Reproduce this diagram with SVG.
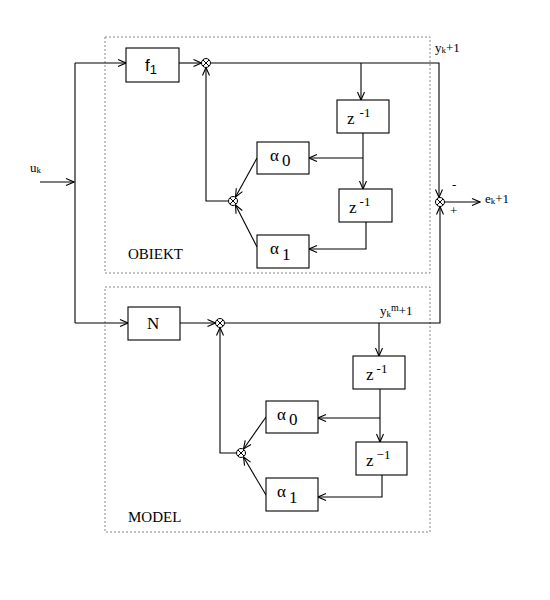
<svg xmlns="http://www.w3.org/2000/svg" width="550" height="600" viewBox="0 0 550 600">
<style>
.frame{fill:none;stroke:#888;stroke-width:1;stroke-dasharray:2,2}
.box{fill:#fff;stroke:#000;stroke-width:1.1}
.ln{fill:none;stroke:#000;stroke-width:1.1;marker-end:url(#a)}
.pl{fill:none;stroke:#000;stroke-width:1.1}
.sum circle{fill:#fff;stroke:#000;stroke-width:1}
.sum path{stroke:#000;stroke-width:1}
text{font-family:"Liberation Serif","DejaVu Serif",serif;fill:#000}
.t{font-size:17px}
.s{font-size:13px}
.lab{font-size:15px}
</style>
<defs>
<marker id="a" markerWidth="10" markerHeight="10" refX="9" refY="5" orient="auto" markerUnits="userSpaceOnUse">
<path d="M1,1.5 L9,5 L1,8.5" fill="none" stroke="#000" stroke-width="1.1"/>
</marker>
</defs>
<rect width="550" height="600" fill="#fff"/>
<g id="obiekt-frame"><rect class="frame" x="105" y="37" width="325" height="236"/><text class="lab" x="128" y="259">OBIEKT</text></g>
<g id="model-frame"><rect class="frame" x="105" y="287" width="325" height="245"/><text class="lab" x="128" y="522">MODEL</text></g>
<g id="connectors">
<path class="ln" d="M40,182 H74"/>
<path class="pl" d="M75,63 V323"/>
<path class="ln" d="M75,63 H126"/>
<path class="ln" d="M179,63 H201.5"/>
<path class="ln" d="M210.5,63 H439 V197.5"/>
<path class="ln" d="M361,63 V100"/>
<path class="ln" d="M363,133 V189"/>
<path class="ln" d="M363,158 H309"/>
<path class="ln" d="M366,222 V249 H309"/>
<path class="ln" d="M257,158 L235.5,197"/>
<path class="ln" d="M257,247 L235.5,205"/>
<path class="ln" d="M228.5,201 H206 V67.5"/>
<path class="ln" d="M444.5,202 H480"/>
<path class="ln" d="M75,323 H128"/>
<path class="ln" d="M180,323 H215.5"/>
<path class="ln" d="M224.5,323 H440 V206.5"/>
<path class="ln" d="M379,323 V356"/>
<path class="ln" d="M380,389 V442"/>
<path class="ln" d="M380,418 H318"/>
<path class="ln" d="M382,475 V497 H318"/>
<path class="ln" d="M266,417 L243.5,449"/>
<path class="ln" d="M266,495 L243.5,457"/>
<path class="ln" d="M236.5,453 H220 V327.5"/>
</g>
<g id="f1"><rect class="box" x="126" y="48" width="53" height="34"/><text x="145" y="71" style="font-family:'Liberation Sans',sans-serif;font-size:17px">f<tspan style="font-size:13px" dy="3">1</tspan></text></g>
<g id="sum1" class="sum"><circle cx="206" cy="63" r="4.5"/><path d="M203,60 L209,66 M209,60 L203,66"/></g>
<g id="z1a"><rect class="box" x="337" y="100" width="52" height="33"/><text class="t" x="347" y="124">z<tspan class="s" dx="5" dy="-7">-1</tspan></text></g>
<g id="z1b"><rect class="box" x="339" y="189" width="53" height="33"/><text class="t" x="349" y="213">z<tspan class="s" dx="3" dy="-7">-1</tspan></text></g>
<g id="alpha0a"><rect class="box" x="257" y="142" width="52" height="32"/><text class="t" x="270" y="161">α<tspan class="t" dx="3" dy="5">0</tspan></text></g>
<g id="alpha1a"><rect class="box" x="257" y="235" width="52" height="33"/><text class="t" x="270" y="254">α<tspan class="t" dx="3" dy="6">1</tspan></text></g>
<g id="sum2" class="sum"><circle cx="233" cy="201" r="4.5"/><path d="M230,198 L236,204 M236,198 L230,204"/></g>
<g id="sum3" class="sum"><circle cx="440" cy="202" r="4.5"/><path d="M437,199 L443,205 M443,199 L437,205"/></g>
<g id="N"><rect class="box" x="128" y="307" width="52" height="33"/><text class="t" x="147" y="329">N</text></g>
<g id="sum4" class="sum"><circle cx="220" cy="323" r="4.5"/><path d="M217,320 L223,326 M223,320 L217,326"/></g>
<g id="z2a"><rect class="box" x="353" y="356" width="52" height="33"/><text class="t" x="366" y="380">z<tspan class="s" dx="3" dy="-7">-1</tspan></text></g>
<g id="z2b"><rect class="box" x="356" y="442" width="51" height="33"/><text class="t" x="366" y="466">z<tspan class="s" dx="3" dy="-7">−1</tspan></text></g>
<g id="alpha0b"><rect class="box" x="266" y="401" width="52" height="32"/><text class="t" x="277" y="420">α<tspan class="t" dx="3" dy="5">0</tspan></text></g>
<g id="alpha1b"><rect class="box" x="266" y="478" width="52" height="33"/><text class="t" x="277" y="497">α<tspan class="t" dx="3" dy="6">1</tspan></text></g>
<g id="sum5" class="sum"><circle cx="241" cy="453" r="4.5"/><path d="M238,450 L244,456 M244,450 L238,456"/></g>
<g id="labels">
<text class="s" x="30" y="172">u<tspan font-size="9" dy="1">k</tspan></text>
<text class="s" x="435" y="52">y<tspan font-size="9" dy="1">k</tspan><tspan dy="-1">+1</tspan></text>
<text class="s" x="380" y="315">y<tspan font-size="9" dy="2">k</tspan><tspan font-size="10" dy="-6">m</tspan><tspan dy="4">+1</tspan></text>
<text class="s" x="452" y="189">-</text>
<text class="s" x="450" y="215">+</text>
<text class="s" x="485" y="203">e<tspan font-size="9" dy="1">k</tspan><tspan dy="-1">+1</tspan></text>
</g>
</svg>
